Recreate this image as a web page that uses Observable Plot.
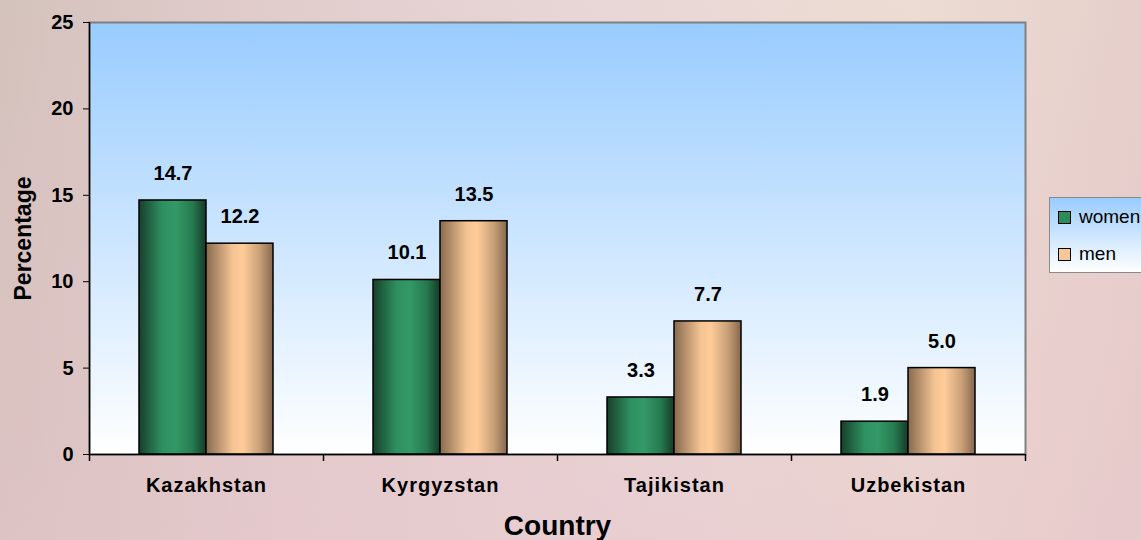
<!DOCTYPE html>
<html>
<head>
<meta charset="utf-8">
<script src="https://cdn.jsdelivr.net/npm/d3@7"></script>
<script src="https://cdn.jsdelivr.net/npm/@observablehq/plot@0.6"></script>
<style>
  body { margin: 0; }
  #wrap {
    position: relative; width: 1141px; height: 540px; overflow: hidden;
    font-family: 'Liberation Sans', Arial, sans-serif;
    background-color: #dcc8c4;
    background-image:
      linear-gradient(to bottom, rgba(255,255,255,0) 0%, rgba(232,196,204,0.45) 100%),
      linear-gradient(to right, #d4c2bc 0%, #e2cdcd 25%, #e9d7d7 55%, #ecdcd2 80%, #e6cfcb 100%);
  }
  #legend {
    position: absolute; left: 1049px; top: 197px; width: 130px; height: 74px;
    border: 1px solid #8a8a8a; background: linear-gradient(#99ccff, #ffffff);
  }
  .item { position: absolute; left: 8px; font-size: 19px; line-height: 20px; color: #000; white-space: nowrap; }
  .sw { display: inline-block; width: 11px; height: 11px; border: 1px solid #000; margin-right: 8px; vertical-align: -1px; }
  svg [aria-label="x-axis tick label"] text { letter-spacing: 1px; }
</style>
</head>
<body>
<div id="wrap"></div>
<script>
const countries = ["Kazakhstan", "Kyrgyzstan", "Tajikistan", "Uzbekistan"];
const women = [14.7, 10.1, 3.3, 1.9];
const men = [12.2, 13.5, 7.7, 5.0];
const yTicks = [0, 5, 10, 15, 20, 25];
const seriesNames = ["women", "men"];

const W = 1141, H = 540, ML = 89, MR = 116, MT = 22, MB = 86;
const bw = (W - ML - MR) / countries.length;
const barW = 67;
const outer = (bw - 2 * barW) / 2;

const womenRows = countries.map((c, i) => ({country: c, value: women[i]}));
const menRows = countries.map((c, i) => ({country: c, value: men[i]}));

const font = "'Liberation Sans', Arial, sans-serif";

const chart = Plot.plot({
  width: W, height: H,
  marginLeft: ML, marginRight: MR, marginTop: MT, marginBottom: MB,
  style: {background: "transparent", fontFamily: font, fontWeight: "bold", fontSize: "20px", color: "#000"},
  x: {type: "band", domain: countries, padding: 0},
  y: {domain: [0, 25]},
  marks: [
    Plot.frame({fill: "url(#gBg)", stroke: "#808080", strokeWidth: 2}),
    Plot.barY(womenRows, {x: "country", y: "value", insetLeft: outer, insetRight: outer + barW,
      fill: "url(#gWomen)", stroke: "#000", strokeWidth: 1.5}),
    Plot.barY(menRows, {x: "country", y: "value", insetLeft: outer + barW, insetRight: outer,
      fill: "url(#gMen)", stroke: "#000", strokeWidth: 1.5}),
    Plot.text(womenRows, {x: "country", y: "value", text: d => d.value.toFixed(1), dx: -barW / 2,
      dy: -27, lineAnchor: "middle", fontSize: 20, fontWeight: "bold", fill: "#000"}),
    Plot.text(menRows, {x: "country", y: "value", text: d => d.value.toFixed(1), dx: barW / 2,
      dy: -27, lineAnchor: "middle", fontSize: 20, fontWeight: "bold", fill: "#000"}),
    Plot.ruleY([0], {stroke: "#000", strokeWidth: 1.5}),
    Plot.ruleX([countries[0]], {x: d => d, y1: 0, y2: 25, dx: -bw / 2, stroke: "#000", strokeWidth: 1.5}),
    Plot.ruleX(countries, {x: d => d, y1: 0, y2: 0, insetBottom: -7, dx: -bw / 2, stroke: "#000", strokeWidth: 1.5}),
    Plot.ruleX([countries[countries.length - 1]], {x: d => d, y1: 0, y2: 0, insetBottom: -7, dx: bw / 2, stroke: "#000", strokeWidth: 1.5}),
    Plot.axisY({ticks: yTicks, tickSize: 6, tickPadding: 10, label: null, fontSize: 20, fontWeight: "bold", stroke: "#000"}),
    Plot.axisX({tickSize: 0, tickPadding: 23, label: null, fontSize: 20, fontWeight: "bold"}),
    Plot.text(["Country"], {frameAnchor: "bottom", text: d => d, dy: 72, lineAnchor: "middle", textAnchor: "middle",
      fontSize: 28, fontWeight: "bold", fill: "#000"}),
    Plot.text(["Percentage"], {frameAnchor: "left", text: d => d, dx: -66, rotate: -90, lineAnchor: "middle", textAnchor: "middle",
      fontSize: 23, fontWeight: "bold", fill: "#000"})
  ]
});

const svg = d3.select(chart);
svg.style("overflow", "visible");
const defs = svg.insert("defs", ":first-child");
const bg = defs.append("linearGradient").attr("id", "gBg").attr("x1", 0).attr("y1", 0).attr("x2", 0).attr("y2", 1);
bg.append("stop").attr("offset", "0%").attr("stop-color", "#99ccff");
bg.append("stop").attr("offset", "100%").attr("stop-color", "#ffffff");
const gw = defs.append("linearGradient").attr("id", "gWomen").attr("x1", 0).attr("y1", 0).attr("x2", 1).attr("y2", 0);
[["0%", "#17402b"], ["35%", "#2e9060"], ["55%", "#339966"], ["80%", "#267a50"], ["100%", "#153a27"]]
  .forEach(([o, c]) => gw.append("stop").attr("offset", o).attr("stop-color", c));
const gm = defs.append("linearGradient").attr("id", "gMen").attr("x1", 0).attr("y1", 0).attr("x2", 1).attr("y2", 0);
[["0%", "#876a4f"], ["40%", "#f5c493"], ["55%", "#ffcc99"], ["80%", "#c9a078"], ["100%", "#85684e"]]
  .forEach(([o, c]) => gm.append("stop").attr("offset", o).attr("stop-color", c));

const wrap = document.getElementById("wrap");
wrap.appendChild(chart);

const legend = document.createElement("div");
legend.id = "legend";
const colors = ["#2e8b5a", "#f7c797"];
seriesNames.forEach((name, i) => {
  const item = document.createElement("div");
  item.className = "item";
  item.style.top = (9 + i * 37) + "px";
  const sw = document.createElement("span");
  sw.className = "sw";
  sw.style.background = colors[i];
  item.appendChild(sw);
  item.appendChild(document.createTextNode(name));
  legend.appendChild(item);
});
wrap.appendChild(legend);
</script>
</body>
</html>
